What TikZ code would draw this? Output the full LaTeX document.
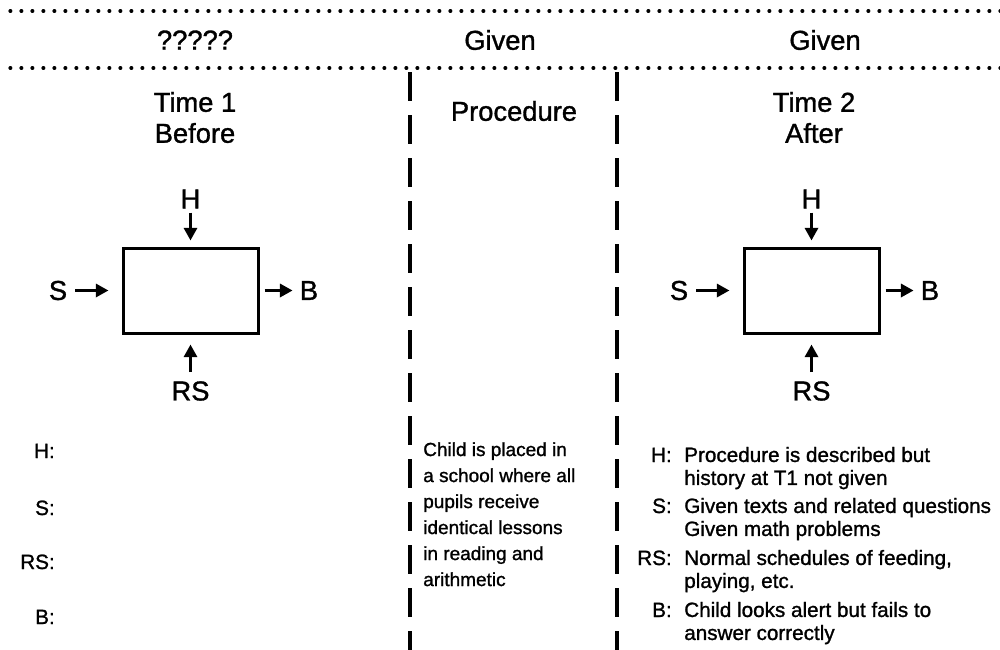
\documentclass[tikz,border=0pt]{standalone}
\usepackage{fontspec}
\setmainfont{Liberation Sans}[BoldFont=Liberation Sans, BoldFeatures={FakeBold=1.2}]
\usetikzlibrary{arrows.meta}
\begin{document}
\begin{tikzpicture}[x=0.75pt,y=-0.75pt,
  big/.style={font=\fontsize{20.5}{24}\selectfont\bfseries, inner sep=0pt},
  lbl/.style={font=\fontsize{20.5}{24}\selectfont\bfseries, inner sep=0pt},
  small/.style={font=\fontsize{15.5}{17.25}\selectfont\bfseries, inner sep=0pt, align=left},
  midtext/.style={font=\fontsize{14.25}{19.5}\selectfont\bfseries, inner sep=0pt, align=left},
  blackbox/.style={draw, line width=2.25pt, minimum width=101.25pt, minimum height=63.75pt, inner sep=0pt},
  arr/.style={line width=2.6pt, -{Triangle[length=9.5pt,width=9.75pt]}},
  dotline/.style={line width=2.4pt, line cap=round, dash pattern=on 0.6pt off 7.65pt},
  vdash/.style={line width=2.4pt, dash pattern=on 21.75pt off 10.5pt}]
\useasboundingbox (0,0) rectangle (1000,650);

% horizontal dotted rules
\coordinate (t1a) at (10,11); \coordinate (t1b) at (1000,11);
\coordinate (t2a) at (10,68); \coordinate (t2b) at (1000,68);
\draw[dotline] (t1a) -- (t1b);
\draw[dotline] (t2a) -- (t2b);

% vertical dashed separators
\coordinate (v1a) at (410,72); \coordinate (v1b) at (410,650);
\coordinate (v2a) at (617,72); \coordinate (v2b) at (617,650);
\draw[vdash] (v1a) -- (v1b);
\draw[vdash] (v2a) -- (v2b);

% header row
\node[big] (q) at (195,40) {?????};
\node[big] (g1) at (500,40) {Given};
\node[big] (g2) at (825,40) {Given};

% column titles
\node[big] (t1) at (195,102) {Time 1};
\node[big] (bf) at (195,133) {Before};
\node[big] (pr) at (514,111) {Procedure};
\node[big] (t2) at (814,102) {Time 2};
\node[big] (af) at (814,133) {After};

% left diagram
\node[blackbox] (boxL) at (190.5,290.5) {};
\node[lbl] (HL) at (190.5,199) {H};
\node[lbl] (SL) at (58,290.5) {S};
\node[lbl] (BL) at (309,290.5) {B};
\node[lbl] (RL) at (190.5,391) {RS};
\draw[arr, shorten <=3pt, shorten >=4.5pt] (HL) -- (boxL);
\draw[arr, shorten <=6pt, shorten >=9.75pt] (SL) -- (boxL);
\draw[arr, shorten <=3.75pt, shorten >=5.25pt] (boxL) -- (BL);
\draw[arr, shorten <=6.75pt, shorten >=7.5pt] (RL) -- (boxL);

% right diagram
\node[blackbox] (boxR) at (811.5,290.5) {};
\node[lbl] (HR) at (811.5,199) {H};
\node[lbl] (SR) at (679,290.5) {S};
\node[lbl] (BR) at (930,290.5) {B};
\node[lbl] (RR) at (811.5,391) {RS};
\draw[arr, shorten <=3pt, shorten >=4.5pt] (HR) -- (boxR);
\draw[arr, shorten <=6pt, shorten >=9.75pt] (SR) -- (boxR);
\draw[arr, shorten <=3.75pt, shorten >=5.25pt] (boxR) -- (BR);
\draw[arr, shorten <=6.75pt, shorten >=7.5pt] (RR) -- (boxR);

% left list labels
\node[small, anchor=base east] (lh) at (55,458) {H:};
\node[small, anchor=base east] (ls) at (55,515) {S:};
\node[small, anchor=base east] (lrs) at (55,569) {RS:};
\node[small, anchor=base east] (lb) at (55,624) {B:};

% procedure text
\node[midtext, anchor=north west] (proc) at (423,442) {Child is placed in\\a school where all\\pupils receive\\identical lessons\\in reading and\\arithmetic};

% right list
\node[small, anchor=base east] (rh) at (672,462) {H:};
\node[small, anchor=north west] (rht) at (684,446.7) {Procedure is described but\\history at T1 not given};
\node[small, anchor=base east] (rs) at (672,513) {S:};
\node[small, anchor=north west] (rst) at (684,497.7) {Given texts and related questions\\Given math problems};
\node[small, anchor=base east] (rrs) at (672,565) {RS:};
\node[small, anchor=north west] (rrst) at (684,549.7) {Normal schedules of feeding,\\playing, etc.};
\node[small, anchor=base east] (rb) at (672,617) {B:};
\node[small, anchor=north west] (rbt) at (684,601.7) {Child looks alert but fails to\\answer correctly};
\end{tikzpicture}
\end{document}
